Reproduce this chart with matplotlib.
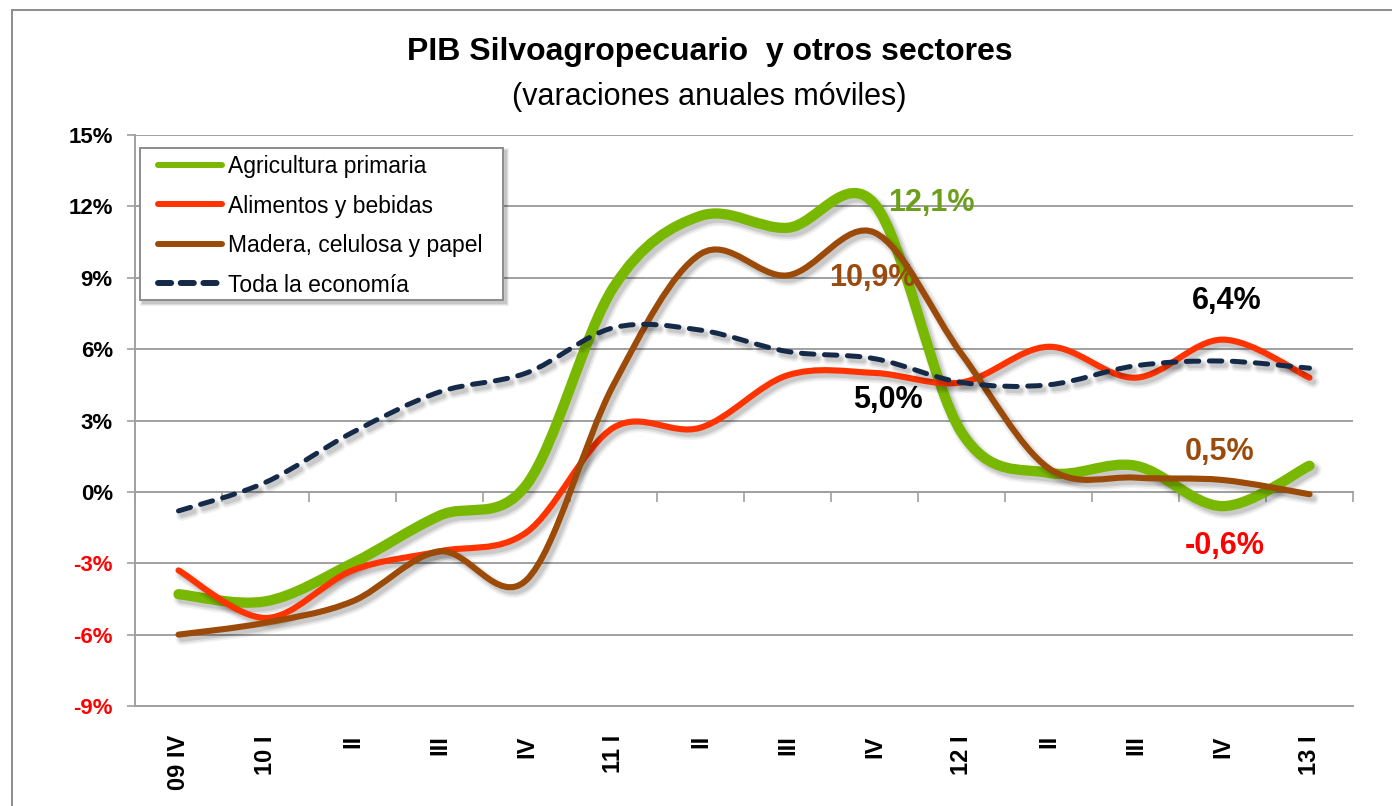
import matplotlib
matplotlib.use('Agg')
import matplotlib.pyplot as plt
from matplotlib import font_manager as fm
from matplotlib.path import Path
from matplotlib.patches import PathPatch, Rectangle
from matplotlib.lines import Line2D
import matplotlib.patheffects as pe
import numpy as np

# ---------------- data ----------------
categories = ["09 IV", "10 I", "II", "III", "IV", "11 I", "II", "III", "IV",
              "12 I", "II", "III", "IV", "13 I"]
agricultura = [-4.3, -4.6, -3.0, -1.0, 0.3, 8.6, 11.6, 11.1, 12.1, 2.5, 0.8, 1.1, -0.6, 1.1]
alimentos = [-3.3, -5.3, -3.3, -2.5, -1.7, 2.7, 2.7, 4.9, 5.0, 4.6, 6.1, 4.8, 6.4, 4.8]
madera = [-6.0, -5.5, -4.6, -2.5, -3.7, 4.5, 10.0, 9.1, 10.9, 5.8, 1.0, 0.6, 0.5, -0.1]
toda = [-0.8, 0.4, 2.5, 4.2, 5.0, 6.9, 6.8, 5.9, 5.6, 4.6, 4.5, 5.3, 5.5, 5.2]
series_names = ["Agricultura primaria", "Alimentos y bebidas",
                "Madera, celulosa y papel", "Toda la economía"]
y_ticks = [-9, -6, -3, 0, 3, 6, 9, 12, 15]
title = "PIB Silvoagropecuario  y otros sectores"
subtitle = "(varaciones anuales móviles)"

# ---------------- fonts ----------------
def pick(*names):
    for n in names:
        try:
            fm.findfont(fm.FontProperties(family=n), fallback_to_default=False)
            return n
        except Exception:
            pass
    return "DejaVu Sans"

FONT = pick("Liberation Sans Narrow", "Liberation Sans", "Arial")
plt.rcParams['font.family'] = [FONT, 'DejaVu Sans']

W, H = 1392, 806
fig = plt.figure(figsize=(W / 100, H / 100), dpi=100)
fig.patch.set_facecolor('white')

def fx(px):
    return px / W

def fy(py):
    return 1 - py / H

# outer chart border (left and top visible)
fig.patches.append(Rectangle((fx(12), -0.1), 1.2, fy(10) + 0.1, transform=fig.transFigure,
                             fill=False, edgecolor='#8c8c8c', linewidth=1.4))

ax = fig.add_axes([fx(135), fy(706), fx(1353) - fx(135), fy(135) - fy(706)])
ax.set_xlim(-0.5, 13.5)
ax.set_ylim(-9, 15)

GRID = '#a0a0a0'
ax.set_yticks(y_ticks)
ax.set_yticklabels([f"{v}%" for v in y_ticks])
ax.yaxis.grid(True, color=GRID, linewidth=1.4, zorder=0)
ax.set_axisbelow(True)
for s in ['top', 'right']:
    ax.spines[s].set_visible(False)
for s in ['left', 'bottom']:
    ax.spines[s].set_color(GRID)
    ax.spines[s].set_linewidth(1.4)
ax.tick_params(axis='y', length=6, width=1.2, color=GRID, pad=10, labelsize=16)
for lab, v in zip(ax.get_yticklabels(), y_ticks):
    lab.set_fontweight('bold')
    lab.set_color('#ff0000' if v < 0 else 'black')

ax.set_xticks(range(len(categories)))
ax.set_xticklabels(categories, rotation=90, fontsize=17, fontweight='bold')
ax.tick_params(axis='x', length=0, pad=21)

# tick marks on the zero line
sec = ax.secondary_xaxis(9 / 24)
sec.set_xticks(np.arange(-0.5, 14, 1.0))
sec.tick_params(axis='x', length=7, width=1.2, color=GRID, direction='out', labelbottom=False,
                labeltop=False)
for s in sec.spines.values():
    s.set_color(GRID)
    s.set_linewidth(1.4)

# ---------------- smoothed lines ----------------
def smooth_path(xs, ys):
    pts = np.column_stack([xs, ys]).astype(float)
    n = len(pts)
    verts = [pts[0]]
    codes = [Path.MOVETO]
    for i in range(n - 1):
        p0 = pts[i - 1] if i > 0 else pts[i]
        p1 = pts[i]
        p2 = pts[i + 1]
        p3 = pts[i + 2] if i + 2 < n else pts[i + 1]
        c1 = p1 + (p2 - p0) / 6.0
        c2 = p2 - (p3 - p1) / 6.0
        verts += [c1, c2, p2]
        codes += [Path.CURVE4] * 3
    return Path(verts, codes)

def shadow(lw):
    return [pe.Stroke(offset=(2.5, -3), linewidth=lw + 5, foreground='#000000', alpha=0.05),
            pe.Stroke(offset=(2.5, -3), linewidth=lw + 2.5, foreground='#000000', alpha=0.07),
            pe.Stroke(offset=(2.5, -3), linewidth=lw, foreground='#000000', alpha=0.10),
            pe.Normal()]

xs = np.arange(len(categories))
styles = [
    (toda, '#142a48', 3.6, (0, (2.5, 2.1)), 5),
    (madera, '#9b4a08', 4.4, 'solid', 4),
    (alimentos, '#ff3300', 4.4, 'solid', 3),
    (agricultura, '#79b800', 7.4, 'solid', 2),
]
for vals, col, lw, ls, z in styles:
    patch = PathPatch(smooth_path(xs, vals), fill=False, edgecolor=col, linewidth=lw,
                      linestyle=ls, capstyle='round', joinstyle='round', zorder=z)
    patch.set_path_effects(shadow(lw))
    ax.add_patch(patch)

# ---------------- annotations ----------------
def fmt(v):
    return f"{v:.1f}%".replace('.', ',')

ann = [
    (8, agricultura[8], '#6d9e1c', (57, 1)),
    (8, madera[8], '#9b4a0b', (-2, -45)),
    (8, alimentos[8], 'black', (13, -27)),
    (12, alimentos[12], 'black', (4, 39)),
    (12, madera[12], '#9b4a0b', (-3, 28)),
    (12, agricultura[12], '#ff0000', (2, -40)),
]
for i, v, col, off in ann:
    ax.annotate(fmt(v), (i, v), xytext=off, textcoords='offset pixels', ha='center',
                va='center', fontsize=22, fontweight='bold', color=col, zorder=10)

# ---------------- legend ----------------
lx0, ly0, lx1, ly1 = 140, 148, 503, 300
for k, a in [(6, 0.06), (4, 0.08), (2.5, 0.1)]:
    fig.patches.append(Rectangle((fx(lx0 + 3 - k / 2), fy(ly1 + 3 + k / 2)),
                                 fx(lx1 - lx0 + k), fy(0) - fy(ly1 - ly0 + k),
                                 transform=fig.transFigure, facecolor='black', alpha=a,
                                 edgecolor='none', zorder=20))
fig.patches.append(Rectangle((fx(lx0), fy(ly1)), fx(lx1 - lx0), fy(0) - fy(ly1 - ly0),
                             transform=fig.transFigure, facecolor='white',
                             edgecolor='#8c8c8c', linewidth=1.4, zorder=21))
handles = [
    Line2D([], [], color='#79b800', lw=4.3, solid_capstyle='round'),
    Line2D([], [], color='#ff3300', lw=4.3, solid_capstyle='round'),
    Line2D([], [], color='#9b4a08', lw=4.3, solid_capstyle='round'),
    Line2D([], [], color='#142a48', lw=4.3, linestyle=(0, (2.2, 1.6)), dash_capstyle='round'),
]
leg = fig.legend(handles, series_names, loc='upper left',
                 bbox_to_anchor=(fx(158), fy(155)), bbox_transform=fig.transFigure,
                 frameon=False, borderpad=0, borderaxespad=0, fontsize=16.5,
                 handlelength=2.8, handletextpad=0.25, labelspacing=0.72)
leg.set_zorder(22)

# ---------------- titles ----------------
fig.text(fx(710), fy(52), title, ha='center', va='center', fontsize=23, fontweight='bold')
fig.text(fx(709), fy(97), subtitle, ha='center', va='center', fontsize=22)

fig.savefig('out.png', dpi=100)
